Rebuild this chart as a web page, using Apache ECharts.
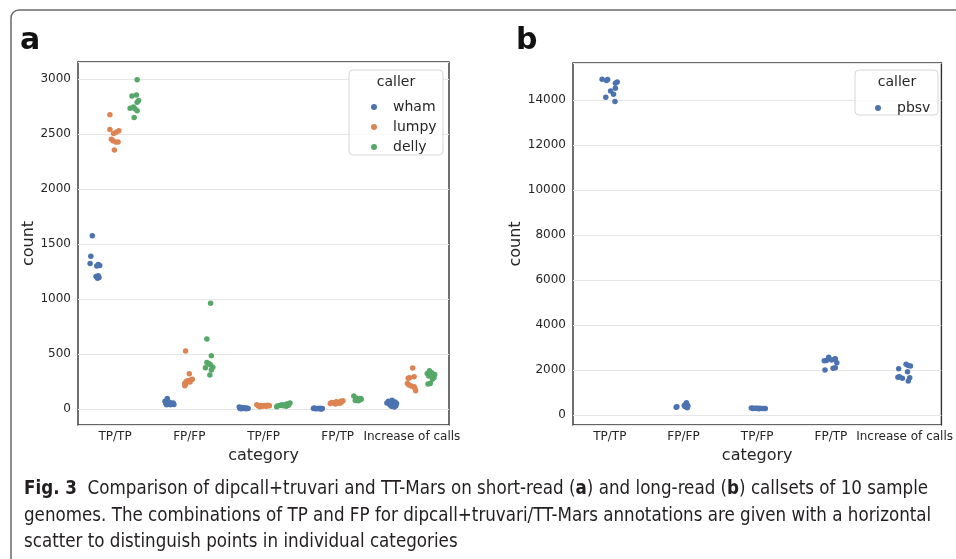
<!DOCTYPE html>
<html>
<head>
<meta charset="utf-8">
<script src="https://cdn.jsdelivr.net/npm/echarts@6/dist/echarts.min.js"></script>
<style>
  html, body { margin: 0; padding: 0; background: #fff; }
  #chart { width: 956px; height: 559px; }
</style>
</head>
<body>
<div id="chart"></div>
<script>
// categories on the x axis (same for both panels)
var categories = ["TP/TP", "FP/FP", "TP/FP", "FP/TP", "Increase of calls"];

// panel a: short-read callers, 10 samples per category
var whamCounts = [
  [1576, 1388, 1324, 1315, 1306, 1300, 1212, 1205, 1196, 1190],
  [97, 72, 62, 56, 50, 48, 45, 42, 40, 38],
  [18, 14, 12, 10, 8, 7, 6, 4, 3, 2],
  [9, 7, 6, 5, 4, 4, 3, 2, 2, 1],
  [80, 72, 63, 55, 50, 45, 38, 30, 25, 18]
];
var lumpyCounts = [
  [2676, 2542, 2530, 2518, 2506, 2452, 2439, 2427, 2427, 2355],
  [527, 321, 272, 265, 258, 250, 245, 235, 225, 212],
  [38, 35, 33, 32, 30, 30, 28, 27, 25, 22],
  [75, 70, 66, 62, 60, 58, 55, 53, 50, 47],
  [373, 294, 285, 279, 233, 218, 210, 203, 188, 166]
];
var dellyCounts = [
  [2994, 2855, 2845, 2805, 2790, 2745, 2735, 2730, 2712, 2650],
  [961, 636, 485, 424, 412, 400, 379, 376, 355, 309],
  [55, 48, 42, 38, 35, 32, 30, 28, 25, 22],
  [118, 100, 95, 90, 88, 85, 82, 80, 78, 76],
  [348, 330, 324, 315, 309, 300, 285, 270, 233, 227]
];
// panel b: long-read caller
var pbsvCounts = [
  [14920, 14902, 14858, 14800, 14742, 14520, 14400, 14253, 14120, 13924],
  [550, 480, 450, 420, 400, 380, 369, 360, 340, 320],
  [310, 305, 300, 298, 295, 292, 290, 288, 285, 280],
  [2564, 2500, 2474, 2444, 2420, 2415, 2326, 2100, 2074, 2000],
  [2252, 2200, 2178, 2059, 1926, 1700, 1674, 1659, 1630, 1511]
];

// horizontal scatter (strip jitter), in category units
var whamJitter = [
  [-0.04, -0.06, -0.07, 0.04, 0.06, 0.02, 0.04, 0.01, 0.05, 0.03],
  [-0.03, -0.06, 0.0, 0.05, -0.05, 0.03, -0.02, 0.06, 0.01, -0.04],
  [-0.06, -0.03, 0.0, 0.04, -0.05, 0.02, 0.06, -0.01, 0.03, -0.04],
  [-0.05, 0.03, -0.02, 0.06, 0.0, -0.06, 0.04, -0.03, 0.02, 0.05],
  [0.0, -0.05, 0.04, -0.07, 0.06, 0.02, -0.03, 0.05, -0.01, 0.03]
];
var lumpyJitter = [
  [-0.07, -0.07, 0.05, 0.02, -0.02, -0.05, -0.03, 0.01, 0.04, -0.01],
  [-0.05, 0.0, 0.04, 0.02, -0.02, -0.04, 0.01, -0.06, -0.05, -0.06],
  [-0.09, 0.06, -0.04, 0.02, -0.07, 0.08, 0.0, -0.02, 0.04, -0.05],
  [0.07, 0.04, -0.02, 0.05, -0.08, 0.01, -0.05, 0.03, -0.1, -0.03],
  [0.01, 0.03, -0.03, -0.05, -0.06, -0.04, -0.01, 0.03, 0.04, 0.05]
];
var dellyJitter = [
  [0.03, 0.02, -0.04, 0.05, 0.03, -0.02, -0.065, 0.0, 0.03, -0.01],
  [0.02, -0.03, 0.03, -0.03, 0.0, 0.02, 0.05, -0.05, 0.03, 0.01],
  [0.09, 0.06, 0.03, -0.02, 0.07, -0.05, 0.0, -0.08, 0.04, -0.09],
  [-0.05, -0.02, 0.04, 0.05, 0.02, -0.01, 0.03, 0.0, -0.03, 0.01],
  [-0.03, 0.0, -0.06, 0.04, 0.02, -0.04, 0.03, 0.01, -0.02, -0.05]
];
var pbsvJitter = [
  [-0.105, -0.03, -0.045, 0.1, 0.075, 0.075, 0.01, 0.05, -0.055, 0.07],
  [0.04, 0.03, 0.05, 0.01, 0.06, 0.02, -0.09, 0.04, -0.1, 0.05],
  [-0.08, -0.05, -0.02, 0.0, 0.03, 0.06, 0.09, 0.11, -0.06, 0.02],
  [-0.03, 0.06, 0.05, 0.01, -0.06, -0.09, 0.08, 0.06, 0.03, -0.08],
  [0.02, 0.05, 0.08, -0.08, 0.04, -0.07, -0.09, 0.07, -0.03, 0.05]
];

var colors = { wham: "#4c72b0", lumpy: "#dd8452", delly: "#55a868", pbsv: "#4c72b0" };

// build [x, y] points, x = category centre + dodge + jitter
function strip(counts, jitter, dodge) {
  var pts = [];
  for (var i = 0; i < counts.length; i++) {
    for (var j = 0; j < counts[i].length; j++) {
      pts.push([i + 0.5 + dodge + jitter[i][j], counts[i][j]]);
    }
  }
  return pts;
}

var font = "DejaVu Sans";
var tickColor = "#262626";

function xAxisFor(gridIndex) {
  return {
    type: "value", gridIndex: gridIndex, min: 0, max: 5, interval: 0.5,
    name: "category", nameLocation: "middle", nameGap: 17,
    nameTextStyle: { fontFamily: font, fontSize: 16, color: tickColor },
    axisLine: { show: false }, axisTick: { show: false }, splitLine: { show: false },
    axisLabel: {
      fontFamily: font, fontSize: 12, color: tickColor, margin: 6,
      showMinLabel: false, showMaxLabel: false,
      formatter: function (v) {
        var k = Math.round(v * 2);
        return k % 2 === 1 ? categories[(k - 1) / 2] : "";
      }
    }
  };
}

function yAxisFor(gridIndex, min, max, splitNumber, gap) {
  return {
    type: "value", gridIndex: gridIndex, min: min, max: max, splitNumber: splitNumber,
    name: "count", nameLocation: "middle", nameGap: gap,
    nameTextStyle: { fontFamily: font, fontSize: 16, color: tickColor },
    axisLine: { show: false }, axisTick: { show: false },
    splitLine: { lineStyle: { color: "#e6e6e6", width: 1 } },
    axisLabel: {
      fontFamily: font, fontSize: 12, color: tickColor, margin: 7,
      showMinLabel: false, showMaxLabel: false,
      formatter: function (v) { return String(v); }
    }
  };
}

function scatter(name, data, xi, yi) {
  return {
    name: name, type: "scatter", xAxisIndex: xi, yAxisIndex: yi,
    data: data, symbolSize: 5.5,
    itemStyle: { color: colors[name], opacity: 1 }
  };
}

var chart = echarts.init(document.getElementById("chart"), null, { renderer: "canvas" });

var legendText = { fontFamily: font, fontSize: 14, color: tickColor, lineHeight: 20, padding: [0, 0, 0, 11] };

var option = {
  animation: false,
  backgroundColor: "#fff",
  grid: [
    { left: 78, top: 62, width: 371, height: 363, show: true, borderColor: "#333", borderWidth: 1.4, backgroundColor: "#fff" },
    { left: 573, top: 63, width: 371, height: 362, show: true, borderColor: "#333", borderWidth: 1.4, backgroundColor: "#fff" }
  ],
  xAxis: [xAxisFor(0), xAxisFor(1)],
  yAxis: [yAxisFor(0, -145, 3155, 6, 26), yAxisFor(1, -444, 15640, 8, 35)],
  legend: [
    {
      z: 100, data: ["wham", "lumpy", "delly"], orient: "vertical", left: 366, top: 92,
      icon: "circle", itemWidth: 6, itemHeight: 6, itemGap: 0, textStyle: legendText
    },
    {
      z: 100, data: ["pbsv"], orient: "vertical", left: 870, top: 93,
      icon: "circle", itemWidth: 6, itemHeight: 6, itemGap: 0, textStyle: legendText
    }
  ],
  graphic: [
    // figure frame
    { type: "rect", shape: { x: 11, y: 10, width: 1000, height: 600, r: 8 }, style: { fill: "none", stroke: "#6a6a6a", lineWidth: 1.5 }, silent: true },
    { type: "text", left: 20, top: 26, style: { text: "a", font: "bold 30px DejaVu Sans", fill: "#111" } },
    { type: "text", left: 516, top: 26, style: { text: "b", font: "bold 30px DejaVu Sans", fill: "#111" } },
    // legend boxes with title
    { type: "rect", z: 50, shape: { x: 349, y: 70, width: 94, height: 85, r: 4 }, style: { fill: "rgba(255,255,255,0.8)", stroke: "#d6d6d6", lineWidth: 1 } },
    { type: "text", z: 51, x: 396, y: 82, style: { text: "caller", font: "14px DejaVu Sans", fill: tickColor, align: "center", verticalAlign: "middle" } },
    { type: "rect", z: 50, shape: { x: 855, y: 70, width: 83, height: 45, r: 4 }, style: { fill: "rgba(255,255,255,0.8)", stroke: "#d6d6d6", lineWidth: 1 } },
    { type: "text", z: 51, x: 897, y: 82, style: { text: "caller", font: "14px DejaVu Sans", fill: tickColor, align: "center", verticalAlign: "middle" } },
    // caption
    {
      type: "text", left: 24, top: 476,
      style: {
        text: "{b|Fig. 3}  Comparison of dipcall+truvari and TT-Mars on short-read ({b|a}) and long-read ({b|b}) callsets of 10 sample\n" +
              "genomes. The combinations of TP and FP for dipcall+truvari/TT-Mars annotations are given with a horizontal\n" +
              "scatter to distinguish points in individual categories",
        font: "18.6px 'Liberation Sans Narrow', 'DejaVu Sans Condensed', sans-serif",
        fill: "#231f20", lineHeight: 26.5,
        rich: {
          b: { font: "bold 18.6px 'Liberation Sans Narrow', 'DejaVu Sans Condensed', sans-serif", fill: "#231f20", lineHeight: 26.5 }
        }
      }
    }
  ],
  series: [
    scatter("wham", strip(whamCounts, whamJitter, -0.267), 0, 0),
    scatter("lumpy", strip(lumpyCounts, lumpyJitter, 0), 0, 0),
    scatter("delly", strip(dellyCounts, dellyJitter, 0.267), 0, 0),
    scatter("pbsv", strip(pbsvCounts, pbsvJitter, 0), 1, 1)
  ]
};

chart.setOption(option);
</script>
</body>
</html>
